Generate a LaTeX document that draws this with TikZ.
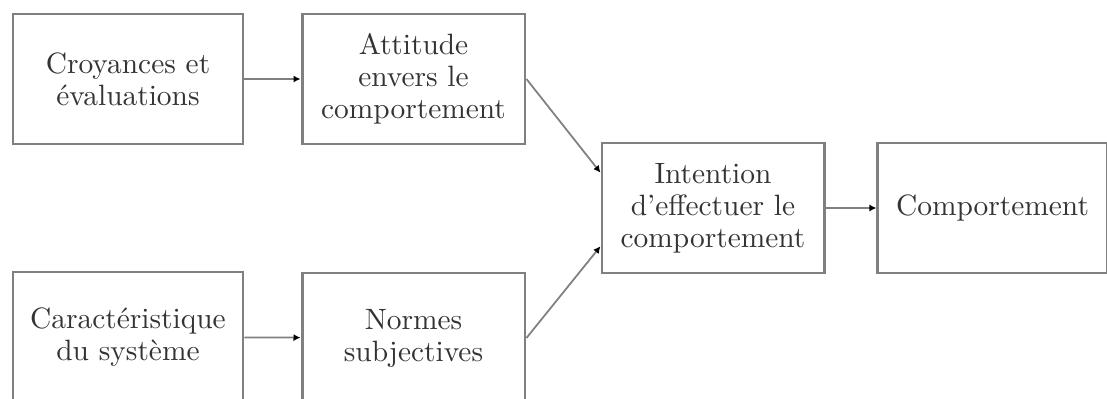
\documentclass[tikz,border=0pt]{standalone}
\usetikzlibrary{arrows.meta}
\begin{document}
\begin{tikzpicture}[x=0.34pt,y=-0.34pt,
  box/.style={draw=black!50,line width=1pt,minimum height=44.2pt,align=center,
    text=black!80,font=\fontsize{10}{10.9}\selectfont,inner sep=0pt},
  conn/.style={draw=black!50,line width=0.6pt,-{Latex[black,length=2.4pt,width=2.4pt]}}]
\useasboundingbox (0,0) rectangle (1107,399);
\node[box,minimum width=78.2pt] (b1) at (128,79) {Croyances et\\évaluations};
\node[box,minimum width=75.8pt] (b2) at (413.5,79) {Attitude\\envers le\\comportement};
\node[box,minimum width=75.5pt] (b3) at (713,208) {Intention\\d'effectuer le\\comportement};
\node[box,minimum width=77.9pt] (b4) at (992.5,208) {Comportement};
\node[box,minimum width=78.2pt] (b5) at (128,337) {Caractéristique\\du système};
\node[box,minimum width=75.8pt] (b6) at (413.5,338) {Normes\\subjectives};
\draw[conn] (b1) -- (b2);
\draw[conn] (b2.east) -- ([yshift=12pt]b3.west);
\draw[conn] (b6.east) -- ([yshift=-13pt]b3.west);
\draw[conn] (b3) -- (b4);
\draw[conn] (b5) -- (b6);
\end{tikzpicture}
\end{document}
